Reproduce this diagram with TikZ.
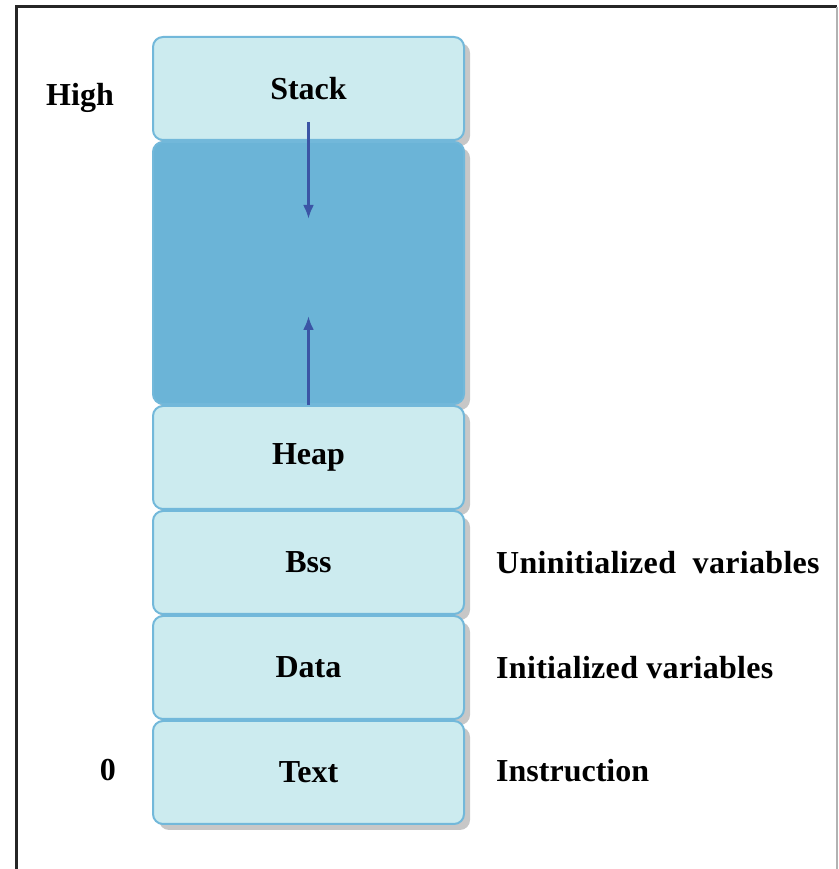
\documentclass[tikz,border=0pt]{standalone}
\usepackage{fontspec}
\setmainfont{Liberation Serif}
\usetikzlibrary{positioning,shadows,arrows.meta}

\definecolor{celda}{HTML}{CCEBEF}
\definecolor{bordecelda}{HTML}{72B8DA}
\definecolor{libre}{HTML}{6BB4D7}
\definecolor{flecha}{HTML}{3B55A5}

\tikzset{
    segmento/.style={draw=bordecelda,line width=2pt,fill=celda,rounded corners=10pt,
        minimum width=311pt,minimum height=103pt,inner sep=0pt,
        font=\fontsize{32}{38}\selectfont\bfseries,
        drop shadow={shadow xshift=6pt,shadow yshift=-6pt,fill=black!22,opacity=1}},
    etiqueta/.style={inner sep=0pt,font=\fontsize{32}{38}\selectfont\bfseries},
    crece/.style={line width=3pt,flecha,-{Latex[length=14pt,width=11pt]}}
}

\begin{document}
\begin{tikzpicture}[x=1pt,y=1pt]

    \def\cx{308.5}
    \def\tope{833}

    \useasboundingbox (0,0) rectangle (838,869);

    %Marco
    \draw[line width=3pt,gray!30!black] (16,0) -- (16,862) -- (837,862);
    \draw[line width=1.2pt,gray!60] (837,862) -- (837,0);

    %Segmentos
    \node[segmento,anchor=north] (stack) at (\cx,\tope) {Stack};
    \node[segmento,fill=libre,minimum height=262pt,below=0pt of stack] (libre) {};
    \node[segmento,below=0pt of libre] (heap) {Heap};
    \node[segmento,below=0pt of heap] (bss) {Bss};
    \node[segmento,below=0pt of bss] (data) {Data};
    \node[segmento,below=0pt of data] (text) {Text};

    %Flechas
    \coordinate (pilaIni) at ([yshift=19pt]stack.south);
    \coordinate (pilaFin) at ([yshift=-78pt]stack.south);
    \coordinate (montFin) at ([yshift=89pt]heap.north);
    \draw[crece] (pilaIni) -- (pilaFin);
    \draw[crece] (heap.north) -- (montFin);

    %Etiquetas
    \node[etiqueta,left=38pt of stack,yshift=-9pt] (high) {High};
    \node[etiqueta,left=36pt of text,yshift=2pt] (cero) {0};
    \node[etiqueta,right=31pt of bss,anchor=west] (nobss) {\addfontfeature{LetterSpace=1}Uninitialized\ \ variables};
    \node[etiqueta,right=31pt of data,anchor=west] (nodata) {\addfontfeature{LetterSpace=1}Initialized variables};
    \node[etiqueta,right=31pt of text,anchor=west,yshift=2pt] (notext) {Instruction};

\end{tikzpicture}
\end{document}
